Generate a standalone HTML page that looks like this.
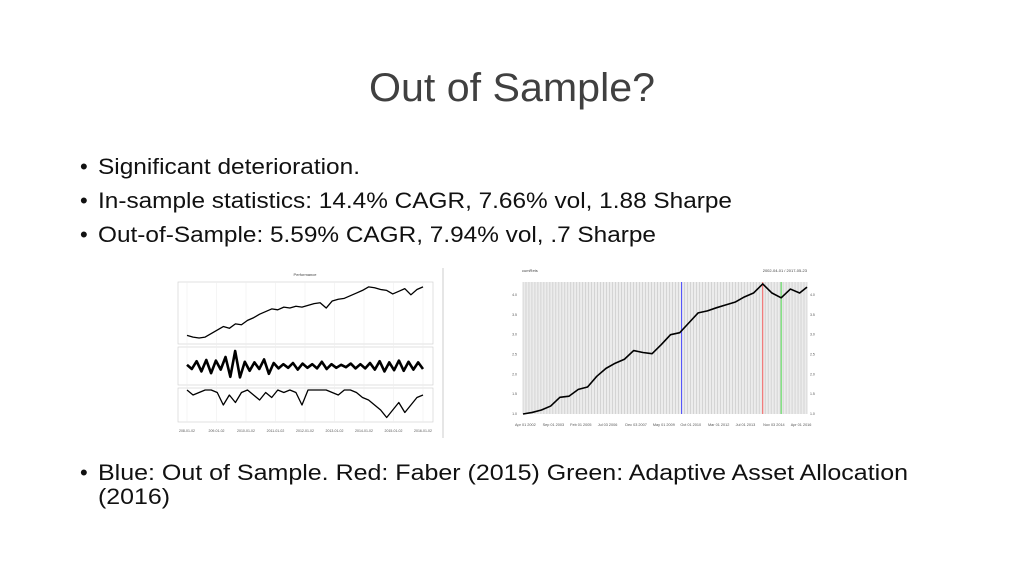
<!DOCTYPE html>
<html><head><meta charset="utf-8"><style>
html,body{margin:0;padding:0;background:#fff}
svg{display:block}
text{font-family:"Liberation Sans",sans-serif}
</style></head><body>
<svg id="s" width="1024" height="576" viewBox="0 0 1024 576">
<text x="512" y="101" text-anchor="middle" font-size="40" fill="#404040" textLength="286" lengthAdjust="spacingAndGlyphs">Out of Sample?</text>
<g font-size="22" fill="#111">
<text x="80" y="174">•</text>
<text x="98" y="174" textLength="262" lengthAdjust="spacingAndGlyphs">Significant deterioration.</text>
<text x="80" y="208">•</text>
<text x="98" y="208" textLength="634" lengthAdjust="spacingAndGlyphs">In-sample statistics: 14.4% CAGR, 7.66% vol, 1.88 Sharpe</text>
<text x="80" y="242">•</text>
<text x="98" y="242" textLength="558" lengthAdjust="spacingAndGlyphs">Out-of-Sample: 5.59% CAGR, 7.94% vol, .7 Sharpe</text>
<text x="80" y="480">•</text>
<text x="98" y="480" textLength="810" lengthAdjust="spacingAndGlyphs">Blue: Out of Sample. Red: Faber (2015) Green: Adaptive Asset Allocation</text>
<text x="98" y="504" textLength="72" lengthAdjust="spacingAndGlyphs">(2016)</text>
</g>
<line x1="443" y1="268" x2="443" y2="438" stroke="#ccc" stroke-width="1"/>
<g id="left"></g>
<g id="right"></g>
</svg>
<script>
const perfValues=[1.0,0.98,0.97,0.98,1.02,1.06,1.1,1.08,1.13,1.12,1.17,1.2,1.24,1.27,1.3,1.29,1.32,1.31,1.33,1.32,1.34,1.36,1.37,1.31,1.39,1.41,1.42,1.45,1.48,1.51,1.55,1.54,1.52,1.51,1.47,1.5,1.53,1.46,1.52,1.55];
const retValues=[0.2,-0.5,0.8,-0.9,1.0,-1.2,0.9,-0.6,1.5,-1.8,2.5,-1.9,0.7,-0.8,0.6,-0.5,1.1,-1.3,0.5,-0.4,0.3,-0.3,0.5,-0.6,0.4,-0.3,0.3,-0.4,0.7,-0.5,0.3,-0.3,0.2,-0.2,0.4,-0.4,0.3,-0.4,0.5,-0.6,0.8,-0.9,0.6,-0.7,0.9,-0.8,0.7,-0.6,0.6,-0.5];
const ddValues=[0,-2,-1,0,0,-1,-6,-2,-5,-1,0,-2,-4,-1,-3,0,-1,0,-1,-6,0,0,0,0,-1,-2,0,0,-1,-3,-4,-6,-8,-11,-8,-5,-9,-6,-3,-2];
const cumCats=[2002,2002.5,2003,2003.5,2004,2004.5,2005,2005.5,2006,2006.5,2007,2007.5,2008,2008.5,2009,2009.5,2010,2010.5,2011,2011.5,2012,2012.5,2013,2013.5,2014,2014.5,2015,2015.5,2016,2016.5,2017,2017.4];
const cumValues=[1.0,1.04,1.1,1.2,1.42,1.45,1.62,1.68,1.95,2.15,2.28,2.38,2.6,2.55,2.52,2.75,3.0,3.05,3.3,3.55,3.6,3.68,3.75,3.82,3.95,4.05,4.28,4.05,3.93,4.15,4.05,4.2];
const cumTicks=[1.0,1.5,2.0,2.5,3.0,3.5,4.0];
const dateLabels=["Apr 01 2002","Sep 01 2003","Feb 01 2005","Jul 03 2006","Dec 03 2007","May 01 2009","Oct 01 2010","Mar 01 2012","Jul 01 2013","Nov 03 2014","Apr 01 2016"];
const markerYears=[2010.6,2015.0,2016.0];
const markerColors=["#4a4aff","#ff6666","#55dd55"];
const NS="http://www.w3.org/2000/svg";
function mk(p,t,a){const e=document.createElementNS(NS,t);for(const k in a)e.setAttribute(k,a[k]);p.appendChild(e);return e;}
function poly(p,xs,ys,col,w){return mk(p,"polyline",{points:xs.map((x,i)=>x+","+ys[i]).join(" "),fill:"none",stroke:col,"stroke-width":w,"stroke-linejoin":"round"});}
const L=document.getElementById("left");
const lx0=187,lx1=423;
const panels=[[282,344],[347,385],[388,422]];
panels.forEach((p,i)=>{const r=mk(L,"rect",{x:178,y:p[0],width:255,height:p[1]-p[0],fill:"none",stroke:"#ccc","stroke-width":0.6});

});
for(let i=0;i<9;i++){const x=lx0+i*(lx1-lx0)/8;const g=mk(L,"line",{x1:x,x2:x,y1:282,y2:422,stroke:"#eee","stroke-width":0.6});
const t=mk(L,"text",{x:x,y:432,"font-size":3.5,"text-anchor":"middle",fill:"#555"});t.textContent="20"+(8+i)+"-01-02";}
const tt=mk(L,"text",{x:305,y:276,"font-size":4,"text-anchor":"middle",fill:"#444"});tt.textContent="Performance";
function lx(i,n){return lx0+i*(lx1-lx0)/(n-1);}
const py=v=>338-(v-0.97)/(1.56-0.97)*52;
let pl=poly(L,perfValues.map((v,i)=>lx(i,perfValues.length)),perfValues.map(py),"#000",1.3);

const ry=v=>366-v*6;
pl=poly(L,retValues.map((v,i)=>lx(i,retValues.length)),retValues.map(ry),"#000",2.6);

const dy=v=>390+(-v)/12*30;
pl=poly(L,ddValues.map((v,i)=>lx(i,ddValues.length)),ddValues.map(dy),"#000",1.3);

const R=document.getElementById("right");
const rx0=523,rx1=807,ry0=282,ry1=414;
const bg=mk(R,"rect",{x:rx0,y:ry0,width:rx1-rx0,height:ry1-ry0,fill:"#ececec"});
for(let i=0;i<=95;i++){const x=rx0+i*(rx1-rx0)/95;const g=mk(R,"line",{x1:x,x2:x,y1:ry0,y2:ry1,stroke:"#bbb","stroke-width":0.5});}
const xs=y=>rx0+(y-2002)/(2017.4-2002)*(rx1-rx0);
const ys=v=>414-(v-1)/3*119;
cumTicks.forEach(v=>{const a=mk(R,"text",{x:517,y:ys(v)+1,"font-size":3.5,"text-anchor":"end",fill:"#555"});a.textContent=v.toFixed(1);
const b=mk(R,"text",{x:810,y:ys(v)+1,"font-size":3.5,fill:"#555"});b.textContent=v.toFixed(1);});
dateLabels.forEach((d,i)=>{const t=mk(R,"text",{x:rx0-8+i*(rx1-rx0)/10.3,y:426,"font-size":3.8,fill:"#555"});t.textContent=d;});
markerYears.forEach((y,i)=>{const l=mk(R,"line",{x1:xs(y),x2:xs(y),y1:ry0,y2:ry1,stroke:markerColors[i],"stroke-width":1});});
pl=poly(R,cumCats.map(xs),cumValues.map(ys),"#000",1.6);

const t1=mk(R,"text",{x:522,y:272,"font-size":4,fill:"#444"});t1.textContent="cumRets";
const t2=mk(R,"text",{x:807,y:272,"font-size":4,"text-anchor":"end",fill:"#444"});t2.textContent="2002-04-01 / 2017-05-23";
</script>
</body></html>
